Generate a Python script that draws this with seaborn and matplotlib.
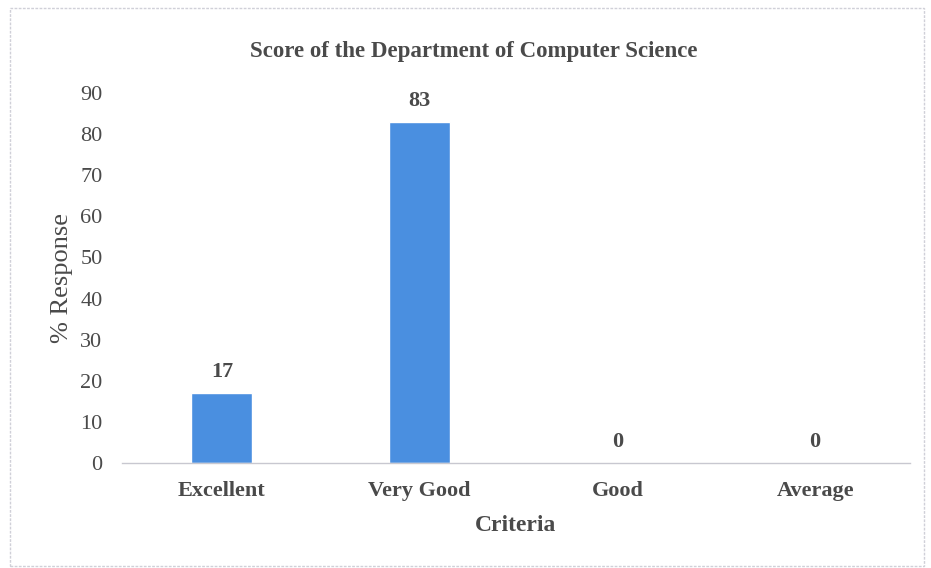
import matplotlib
matplotlib.use('Agg')
import matplotlib.pyplot as plt
import seaborn as sns
import pandas as pd
from matplotlib.patches import Rectangle

# Chart values
criteria = ['Excellent', 'Very Good', 'Good', 'Average']
response = [17, 83, 0, 0]
y_ticks = [0, 10, 20, 30, 40, 50, 60, 70, 80, 90]

df = pd.DataFrame({'Criteria': criteria, 'Response': response})

sns.set_style('white')
plt.rcParams['font.family'] = ['Liberation Serif', 'DejaVu Serif']

text_col = '#4a4a4a'
bar_col = '#4a8fe0'

fig = plt.figure(figsize=(9.31, 5.68), dpi=100)
ax = fig.add_axes([0.131, 0.185, 0.8465, 0.651])

sns.barplot(data=df, x='Criteria', y='Response', color=bar_col,
            width=0.31, saturation=1, ax=ax)

# value labels above bars
for i, v in enumerate(response):
    ax.annotate(str(v), (i, v), xytext=(0, 8), textcoords='offset points',
                ha='center', va='bottom', fontsize=16, fontweight='bold',
                color=text_col)

ax.set_ylim(0, 90)
ax.set_xlim(-0.505, 3.48)
ax.set_yticks(y_ticks)
ax.tick_params(axis='y', labelsize=16, labelcolor=text_col, length=0, pad=14)
ax.tick_params(axis='x', labelsize=16, labelcolor=text_col, length=0, pad=13)
for lbl in ax.get_xticklabels():
    lbl.set_fontweight('bold')

ax.set_xlabel('Criteria', fontsize=17, fontweight='bold', color=text_col, labelpad=10)
ax.set_ylabel('% Response', fontsize=19, color=text_col, labelpad=5)
ax.set_title('Score of the Department of Computer Science', fontsize=16.5,
             fontweight='bold', color=text_col, pad=26, x=0.447)

sns.despine(ax=ax, left=True)
ax.spines['bottom'].set_color('#c8c8d0')
ax.spines['bottom'].set_linestyle((0, (2, 1)))
ax.spines['bottom'].set_linewidth(1.0)

# light dotted frame around the chart
fig.patches.append(Rectangle((10 / 931, 0.004), 914 / 931, 1 - 8 / 568 - 0.004,
                             transform=fig.transFigure, fill=False,
                             edgecolor='#d0d0d8', linewidth=1,
                             linestyle=(0, (2, 1))))

fig.savefig('out.png', dpi=100)
